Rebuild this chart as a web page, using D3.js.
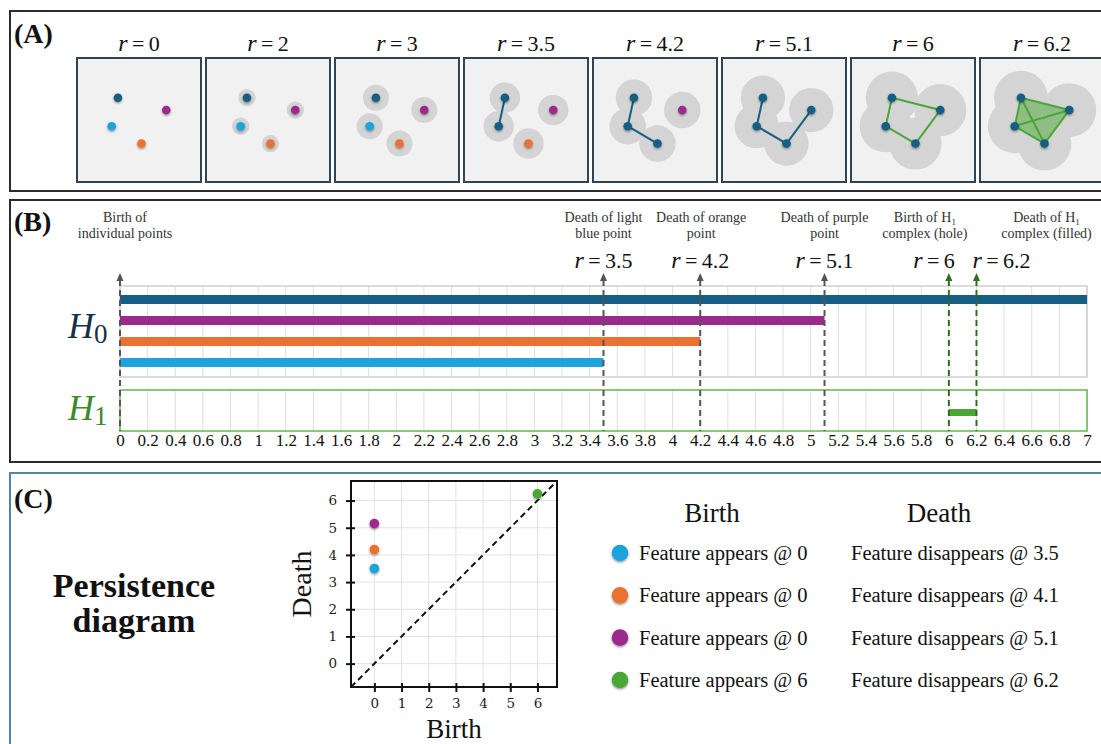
<!DOCTYPE html>
<html>
<head>
<meta charset="utf-8">
<script src="https://cdn.jsdelivr.net/npm/d3@7"></script>
<style>
  body { margin: 0; background: #fff; }
  svg { display: block; font-family: "Liberation Serif", "Times New Roman", serif; }
</style>
</head>
<body>
<svg id="chart" width="1101" height="744"></svg>
<script>
// ---------- data ----------
// H0 barcode (one bar per point of the cloud)
const h0Ids   = ["darkblue", "purple", "orange", "lightblue"];
const h0Birth = [0, 0, 0, 0];
const h0Death = [7, 5.1, 4.2, 3.5];     // dark blue never dies, runs to the end
// H1 barcode
const h1Birth = [6];
const h1Death = [6.2];

// panel A : the point cloud and its growing balls
const filtrationR = [0, 2, 3, 3.5, 4.2, 5.1, 6, 6.2];
const cloudIds    = ["darkblue", "purple", "lightblue", "orange"];
const cloudX      = [0.33, 0.72, 0.28, 0.52];
const cloudY      = [0.32, 0.42, 0.55, 0.69];
const cloudMergeR = [Infinity, 5.1, 3.5, 4.2];
const edgeFrom    = ["darkblue", "lightblue", "orange", "purple", "darkblue", "lightblue"];
const edgeTo      = ["lightblue", "orange", "purple", "darkblue", "orange", "purple"];
const edgeBornR   = [3.5, 4.2, 5.1, 6, 6.2, 6.2];

// panel B : annotated radii
const markerR     = [0, 3.5, 4.2, 5.1, 6, 6.2];
const markerLine1 = ["Birth of", "Death of light", "Death of orange", "Death of purple", "Birth of H", "Death of H"];
const markerLine2 = ["individual points", "blue point", "point", "point", "complex (hole)", "complex (filled)"];
const markerSub   = ["", "", "", "", "1", "1"];
const markerDim   = ["H0", "H0", "H0", "H0", "H1", "H1"];

// panel C : persistence diagram + legend
const pdIds    = ["lightblue", "orange", "purple", "green"];
const pdBirth  = [0, 0, 0, 6];
const pdDeath  = [3.5, 4.2, 5.15, 6.25];
const pdTicks  = [0, 1, 2, 3, 4, 5, 6];
const legBirth = ["0", "0", "0", "6"];
const legDeath = ["3.5", "4.1", "5.1", "6.2"];

// ---------- style ----------
const col = {
  darkblue: "#175e84", purple: "#9c2a8c", orange: "#ea7130",
  lightblue: "#1ea3dd", green: "#4aa736"
};
const svg = d3.select("#chart");

const defs = svg.append("defs");
const shadow = defs.append("filter").attr("id", "shadow")
  .attr("x", "-50%").attr("y", "-50%").attr("width", "200%").attr("height", "200%");
shadow.append("feDropShadow").attr("dx", 0).attr("dy", 1.2)
  .attr("stdDeviation", 1.1).attr("flood-color", "#000").attr("flood-opacity", 0.45);

// panel frames
svg.append("rect").attr("x", 10).attr("y", 11).attr("width", 1110).attr("height", 180)
  .attr("fill", "none").attr("stroke", "#2b2b2b").attr("stroke-width", 2);
svg.append("rect").attr("x", 10).attr("y", 200).attr("width", 1110).attr("height", 262)
  .attr("fill", "none").attr("stroke", "#2b2b2b").attr("stroke-width", 2);
svg.append("rect").attr("x", 10).attr("y", 473).attr("width", 1110).attr("height", 300)
  .attr("fill", "none").attr("stroke", "#4e85a8").attr("stroke-width", 2);

function panelTag(txt, y) {
  svg.append("text").attr("x", 14).attr("y", y)
    .attr("font-size", 28).attr("font-weight", "bold").attr("fill", "#111").text(txt);
}
panelTag("(A)", 43);
panelTag("(B)", 231);
panelTag("(C)", 508);

// "r = value" label with italic r
function rLabel(g, x, y, val, anchor) {
  const t = g.append("text").attr("x", x).attr("y", y)
    .attr("text-anchor", anchor || "middle")
    .attr("fill", "#111");
  t.append("tspan").attr("font-style", "italic").attr("font-size", 24).text("r");
  t.append("tspan").attr("font-size", 22).text("\u2009=\u2009" + val);
}

// ---------- panel A ----------
const sq = 124;
const frameX = d3.scaleBand().domain(filtrationR).range([77, 1104]).paddingInner(5 / 129);
const u = d3.scaleLinear().domain([0, 1]).range([0, sq]);
const ball = d3.scaleLinear().domain([0, 7]).range([0, 30.4]);
const cloud = cloudIds.map((id, i) => ({ id, x: u(cloudX[i]), y: u(cloudY[i]), merge: cloudMergeR[i] }));
const byId = Object.fromEntries(cloud.map(p => [p.id, p]));

const frames = svg.append("g").selectAll("g").data(filtrationR).join("g")
  .attr("transform", r => `translate(${frameX(r)},58)`);

frames.append("rect").attr("width", sq).attr("height", sq)
  .attr("fill", "#f1f1f1").attr("stroke", "#2f4556").attr("stroke-width", 2);

frames.each(function (r) {
  const g = d3.select(this);
  rLabel(svg, frameX(r) + sq / 2, 51, r);
  if (r > 0) {
    g.append("g").selectAll("circle").data(cloud).join("circle")
      .attr("cx", d => d.x).attr("cy", d => d.y).attr("r", ball(r))
      .attr("fill", "#d4d4d4");
  }
  const h1 = r >= h1Birth[0];
  if (r >= h1Death[0]) {
    const hull = ["darkblue", "purple", "orange", "lightblue"].map(id => [byId[id].x, byId[id].y]);
    g.append("polygon").attr("points", hull.map(p => p.join(",")).join(" "))
      .attr("fill", col.green).attr("fill-opacity", 0.5);
  }
  const edges = edgeFrom.map((a, i) => ({ a: byId[a], b: byId[edgeTo[i]], r: edgeBornR[i] }))
    .filter(e => e.r <= r);
  g.append("g").selectAll("line").data(edges).join("line")
    .attr("x1", e => e.a.x).attr("y1", e => e.a.y)
    .attr("x2", e => e.b.x).attr("y2", e => e.b.y)
    .attr("stroke", h1 ? col.green : col.darkblue).attr("stroke-width", 2);
  g.append("g").selectAll("circle").data(cloud).join("circle")
    .attr("cx", d => d.x).attr("cy", d => d.y).attr("r", 4.3)
    .attr("fill", d => (r >= d.merge ? col.darkblue : col[d.id]))
    .attr("filter", "url(#shadow)");
});

// ---------- panel B ----------
const x = d3.scaleLinear().domain([0, 7]).range([120, 1087]);
const h0y = d3.scalePoint().domain(h0Ids).range([299.5, 362.5]);
const H0top = 286, H0bot = 377, H1top = 390, H1bot = 431;
const gridTicks = x.ticks(35);

const gB = svg.append("g");
// grid
[[H0top, H0bot], [H1top, H1bot]].forEach(([t, b]) => {
  gB.append("g").selectAll("line").data(gridTicks).join("line")
    .attr("x1", d => x(d)).attr("x2", d => x(d)).attr("y1", t).attr("y2", b)
    .attr("stroke", "#dedede").attr("stroke-width", 1);
});
gB.append("rect").attr("x", x(0)).attr("y", H0top).attr("width", x(7) - x(0)).attr("height", H0bot - H0top)
  .attr("fill", "none").attr("stroke", "#cfcfcf").attr("stroke-width", 1.5);
gB.append("rect").attr("x", x(0)).attr("y", H1top).attr("width", x(7) - x(0)).attr("height", H1bot - H1top)
  .attr("fill", "none").attr("stroke", "#5fb94b").attr("stroke-width", 1.5);

// H0 bars
gB.append("g").selectAll("rect").data(h0Ids).join("rect")
  .attr("x", (d, i) => x(h0Birth[i])).attr("width", (d, i) => x(h0Death[i]) - x(h0Birth[i]))
  .attr("y", d => h0y(d) - 4.5).attr("height", 9)
  .attr("fill", d => col[d]);
// H1 bar
gB.append("g").selectAll("rect").data(h1Birth).join("rect")
  .attr("x", (d, i) => x(d)).attr("width", (d, i) => x(h1Death[i]) - x(d))
  .attr("y", 409).attr("height", 7).attr("fill", col.green);

// axis labels
const axB = gB.append("g").attr("transform", `translate(0,${H1bot})`)
  .call(d3.axisBottom(x).tickValues(gridTicks).tickSize(0).tickFormat(d => +d.toFixed(1)));
axB.select(".domain").remove();
axB.selectAll("text").attr("dy", 0).attr("y", 15)
  .attr("font-family", "'Liberation Serif', serif").attr("font-size", 17).attr("fill", "#111");

// marker dashed lines + arrows
markerR.forEach((r, i) => {
  const c = markerDim[i] === "H1" ? "#2f6e22" : "#555";
  gB.append("line").attr("x1", x(r)).attr("x2", x(r)).attr("y1", 280).attr("y2", H1bot)
    .attr("stroke", c).attr("stroke-width", 2).attr("stroke-dasharray", "6,4");
  gB.append("path").attr("d", `M${x(r) - 3.5},281 L${x(r)},273 L${x(r) + 3.5},281 Z`).attr("fill", c);
});

// annotation text
const markerDx = [5, 0, 1, 0, -24, 70];
markerR.forEach((r, i) => {
  const t = gB.append("text").attr("x", x(r) + markerDx[i]).attr("y", 222)
    .attr("text-anchor", "middle").attr("font-size", 14).attr("fill", "#333");
  t.append("tspan").text(markerLine1[i]);
  if (markerSub[i]) t.append("tspan").attr("font-size", 9).attr("dy", 3).text(markerSub[i]);
  gB.append("text").attr("x", x(r) + markerDx[i]).attr("y", 238)
    .attr("text-anchor", "middle").attr("font-size", 14).attr("fill", "#333").text(markerLine2[i]);
  if (r > 0) {
    if (r === h1Birth[0]) rLabel(gB, x(r) + 6, 268, r, "end");
    else if (r === h1Death[0]) rLabel(gB, x(r) - 4, 268, r, "start");
    else rLabel(gB, x(r), 268, r);
  }
});

// H0 / H1 labels
function homLabel(y, sub, c) {
  const t = gB.append("text").attr("x", 68).attr("y", y).attr("fill", c);
  t.append("tspan").attr("font-style", "italic").attr("font-size", 36).text("H");
  t.append("tspan").attr("font-size", 27).attr("dy", 5).text(sub);
}
homLabel(338, "0", "#16304a");
homLabel(420, "1", "#3d8a2b");

// ---------- panel C ----------
const gC = svg.append("g");
gC.append("text").attr("x", 134).attr("y", 597).attr("text-anchor", "middle")
  .attr("font-size", 34).attr("font-weight", "bold").attr("fill", "#111").text("Persistence");
gC.append("text").attr("x", 134).attr("y", 632).attr("text-anchor", "middle")
  .attr("font-size", 34).attr("font-weight", "bold").attr("fill", "#111").text("diagram");

const px = d3.scaleLinear().domain([-0.86, 6.72]).range([351, 557]);
const py = d3.scaleLinear().domain([-0.86, 6.72]).range([687, 481]);

// grid
gC.append("g").selectAll("line").data(pdTicks).join("line")
  .attr("x1", d => px(d)).attr("x2", d => px(d)).attr("y1", py.range()[0]).attr("y2", py.range()[1])
  .attr("stroke", "#e2e2e2");
gC.append("g").selectAll("line").data(pdTicks).join("line")
  .attr("y1", d => py(d)).attr("y2", d => py(d)).attr("x1", px.range()[0]).attr("x2", px.range()[1])
  .attr("stroke", "#e2e2e2");

// diagonal
gC.append("line").attr("x1", px(-0.86)).attr("y1", py(-0.86)).attr("x2", px(6.72)).attr("y2", py(6.72))
  .attr("stroke", "#111").attr("stroke-width", 2).attr("stroke-dasharray", "6,4");

// frame
gC.append("rect").attr("x", 351).attr("y", 481).attr("width", 206).attr("height", 206)
  .attr("fill", "none").attr("stroke", "#111").attr("stroke-width", 2);

const axX = gC.append("g").attr("transform", `translate(0,687)`)
  .call(d3.axisBottom(px).tickValues(pdTicks).tickSize(5).tickPadding(6));
const axY = gC.append("g").attr("transform", `translate(351,0)`)
  .call(d3.axisLeft(py).tickValues(pdTicks).tickSize(5).tickPadding(9));
[axX, axY].forEach(a => {
  a.select(".domain").remove();
  a.selectAll("text").attr("font-family", "'DejaVu Serif', serif").attr("font-size", 13.5).attr("fill", "#222");
});
axX.selectAll(".tick line").attr("y1", -4).attr("stroke", "#111").attr("stroke-width", 2);
axY.selectAll(".tick line").attr("x1", 4).attr("stroke", "#111").attr("stroke-width", 2);

gC.append("g").selectAll("circle").data(pdIds).join("circle")
  .attr("cx", (d, i) => px(pdBirth[i])).attr("cy", (d, i) => py(pdDeath[i])).attr("r", 4.8)
  .attr("fill", d => col[d]).attr("filter", "url(#shadow)");

gC.append("text").attr("x", 454).attr("y", 738).attr("text-anchor", "middle")
  .attr("font-size", 27).attr("fill", "#111").text("Birth");
gC.append("text").attr("transform", "translate(311,584) rotate(-90)").attr("text-anchor", "middle")
  .attr("font-size", 28).attr("fill", "#111").text("Death");

// legend
gC.append("text").attr("x", 712).attr("y", 522).attr("text-anchor", "middle")
  .attr("font-size", 27).attr("fill", "#111").text("Birth");
gC.append("text").attr("x", 939).attr("y", 522).attr("text-anchor", "middle")
  .attr("font-size", 27).attr("fill", "#111").text("Death");
const ly = d3.scalePoint().domain(pdIds).range([553, 680]);
const rows = gC.append("g").selectAll("g").data(pdIds).join("g")
  .attr("transform", d => `translate(0,${ly(d)})`);
rows.append("circle").attr("cx", 620).attr("r", 8.3).attr("fill", d => col[d]).attr("filter", "url(#shadow)");
rows.append("text").attr("x", 639).attr("y", 7).attr("font-size", 20.5).attr("fill", "#111")
  .text((d, i) => "Feature appears @ " + legBirth[i]);
rows.append("text").attr("x", 851).attr("y", 7).attr("font-size", 20.5).attr("fill", "#111")
  .text((d, i) => "Feature disappears @ " + legDeath[i]);
</script>
</body>
</html>
